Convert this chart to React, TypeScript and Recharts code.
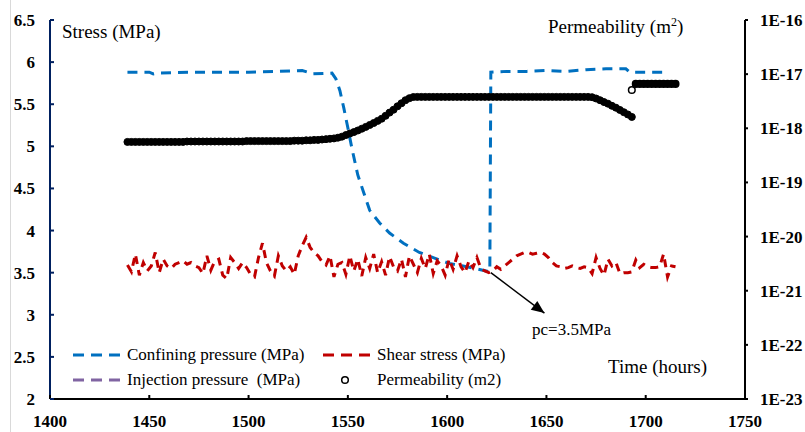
import React from 'react';
import { ComposedChart, Line, XAxis, YAxis, ReferenceLine, ReferenceDot } from 'recharts';

// sample times (hours) shared by shear stress and permeability
const hours = [
  1439, 1441, 1443, 1445, 1447, 1449, 1451, 1453, 1455, 1457,
  1459, 1461, 1463, 1465, 1467, 1469, 1471, 1473, 1475, 1477,
  1479, 1481, 1483, 1485, 1487, 1489, 1491, 1493, 1495, 1497,
  1499, 1501, 1503, 1505, 1507, 1509, 1511, 1513, 1515, 1517,
  1519, 1521, 1523, 1525, 1527, 1529, 1531, 1533, 1535, 1537,
  1539, 1541, 1543, 1545, 1547, 1549, 1551, 1553, 1555, 1557,
  1559, 1561, 1563, 1565, 1567, 1569, 1571, 1573, 1575, 1577,
  1579, 1581, 1583, 1585, 1587, 1589, 1591, 1593, 1595, 1597,
  1599, 1601, 1603, 1605, 1607, 1609, 1611, 1613, 1615, 1617,
  1619, 1621, 1623, 1625, 1627, 1629, 1631, 1633, 1635, 1637,
  1639, 1641, 1643, 1645, 1647, 1649, 1651, 1653, 1655, 1657,
  1659, 1661, 1663, 1665, 1667, 1669, 1671, 1673, 1675, 1677,
  1679, 1681, 1683, 1685, 1687, 1689, 1691, 1693, 1695, 1697,
  1699, 1701, 1703, 1705, 1707, 1709, 1711, 1713, 1715,
];

const shearStress = [
  3.59, 3.51, 3.72, 3.47, 3.62, 3.52, 3.58, 3.74, 3.50, 3.66,
  3.58, 3.55, 3.60, 3.62, 3.64, 3.60, 3.62, 3.58, 3.56, 3.49,
  3.70, 3.53, 3.64, 3.66, 3.47, 3.43, 3.68, 3.62, 3.55, 3.62,
  3.56, 3.48, 3.45, 3.68, 3.85, 3.62, 3.52, 3.46, 3.70, 3.58,
  3.52, 3.57, 3.48, 3.70, 3.82, 3.92, 3.80, 3.74, 3.70, 3.63,
  3.59, 3.70, 3.45, 3.60, 3.62, 3.48, 3.70, 3.52, 3.66, 3.46,
  3.68, 3.55, 3.72, 3.50, 3.63, 3.47, 3.69, 3.57, 3.52, 3.66,
  3.45, 3.70, 3.60, 3.50, 3.67, 3.55, 3.72, 3.49, 3.64, 3.58,
  3.47, 3.66, 3.54, 3.70, 3.57, 3.50, 3.64, 3.56, 3.68, 3.55,
  3.52, 3.50, 3.52, 3.57, 3.54, 3.58, 3.62, 3.66, 3.70, 3.72,
  3.74, 3.74, 3.72, 3.73, 3.74, 3.72, 3.68, 3.62, 3.58, 3.57,
  3.55, 3.56, 3.58, 3.56, 3.55, 3.57, 3.56, 3.49, 3.68, 3.55,
  3.47, 3.66, 3.58, 3.62, 3.49, 3.50, 3.50, 3.51, 3.65, 3.56,
  3.60, 3.57, 3.56, 3.56, 3.57, 3.72, 3.45, 3.58, 3.57,
];

// permeability before the jump (m2)
const permeabilityBefore = [
  5.6e-19, 5.6e-19, 5.6e-19, 5.6e-19, 5.6e-19, 5.6e-19, 5.6e-19, 5.6e-19, 5.6e-19, 5.6e-19,
  5.6e-19, 5.6e-19, 5.6e-19, 5.6e-19, 5.6e-19, 5.7e-19, 5.7e-19, 5.7e-19, 5.7e-19, 5.7e-19,
  5.7e-19, 5.7e-19, 5.7e-19, 5.7e-19, 5.7e-19, 5.7e-19, 5.7e-19, 5.7e-19, 5.7e-19, 5.7e-19,
  5.8e-19, 5.8e-19, 5.8e-19, 5.8e-19, 5.8e-19, 5.8e-19, 5.8e-19, 5.8e-19, 5.8e-19, 5.8e-19,
  5.8e-19, 5.8e-19, 5.9e-19, 5.9e-19, 5.9e-19, 6.0e-19, 6.0e-19, 6.1e-19, 6.1e-19, 6.2e-19,
  6.3e-19, 6.4e-19, 6.5e-19, 6.7e-19, 7.0e-19, 7.5e-19, 8.0e-19, 8.5e-19, 9.1e-19, 9.8e-19,
  1.06e-18, 1.15e-18, 1.25e-18, 1.37e-18, 1.5e-18, 1.7e-18, 1.95e-18, 2.2e-18, 2.55e-18, 2.9e-18,
  3.3e-18, 3.6e-18, 3.78e-18, 3.8e-18, 3.8e-18, 3.8e-18, 3.8e-18, 3.8e-18, 3.8e-18, 3.8e-18,
  3.8e-18, 3.8e-18, 3.8e-18, 3.8e-18, 3.8e-18, 3.8e-18, 3.8e-18, 3.8e-18, 3.8e-18, 3.8e-18,
  3.8e-18, 3.8e-18, 3.8e-18, 3.8e-18, 3.8e-18, 3.8e-18, 3.8e-18, 3.8e-18, 3.8e-18, 3.8e-18,
  3.8e-18, 3.8e-18, 3.8e-18, 3.8e-18, 3.8e-18, 3.8e-18, 3.8e-18, 3.8e-18, 3.8e-18, 3.8e-18,
  3.8e-18, 3.8e-18, 3.8e-18, 3.8e-18, 3.8e-18, 3.8e-18, 3.8e-18, 3.75e-18, 3.55e-18, 3.3e-18,
  3.05e-18, 2.85e-18, 2.6e-18, 2.4e-18, 2.18e-18, 1.98e-18, 1.8e-18, 1.62e-18, null, null,
  null, null, null, null, null, null, null, null, null,
];

// permeability after the jump, starting at 1693 h
const permeabilityAfter = [5.1e-18, 6.6e-18, 6.6e-18, 6.6e-18, 6.6e-18, 6.6e-18, 6.6e-18, 6.6e-18, 6.6e-18, 6.6e-18, 6.6e-18, 6.6e-18];
const jumpHour = 1693;

const confiningHours = [
  1439, 1450, 1452, 1454, 1470, 1500, 1527, 1530, 1532, 1542, 1544, 1546, 1548, 1550, 1552, 1555,
  1558, 1561, 1566, 1571, 1578, 1586, 1594, 1601, 1608, 1614, 1621.5, 1622, 1630, 1640, 1650, 1660,
  1670, 1680, 1690, 1692, 1700, 1711,
];
const confiningPressure = [
  5.88, 5.88, 5.86, 5.87, 5.88, 5.88, 5.9, 5.88, 5.86, 5.87, 5.8, 5.66, 5.45, 5.22, 4.98, 4.66,
  4.45, 4.24, 4.09, 3.97, 3.85, 3.74, 3.67, 3.61, 3.58, 3.55, 3.51, 5.88, 5.89, 5.89, 5.9, 5.89,
  5.91, 5.92, 5.92, 5.88, 5.88, 5.88,
];

const xTicks = [1400, 1450, 1500, 1550, 1600, 1650, 1700, 1750];
const stressTicks = [2, 2.5, 3, 3.5, 4, 4.5, 5, 5.5, 6, 6.5];
const permTicks = [1e-23, 1e-22, 1e-21, 1e-20, 1e-19, 1e-18, 1e-17, 1e-16];

const seriesNames = [
  'Confining pressure (MPa)',
  'Shear stress (MPa)',
  'Injection pressure  (MPa)',
  'Permeability (m2)',
];

const pcPoint = { x: 1622, y: 3.5 };
const pcArrowTip = { x: 1649, y: 3.02 };

const SERIF = '"Liberation Serif", "Times New Roman", serif';
const BLUE = '#0070C0';
const RED = '#C00000';
const PURPLE = '#8064A2';
const NAVY = '#002060';

const table = hours.map((h, i) => ({
  hours: h,
  shear: shearStress[i],
  permBefore: permeabilityBefore[i],
  permAfter: h >= jumpHour ? permeabilityAfter[(h - jumpHour) / 2] : null,
}));
const confiningData = confiningHours.map((h, i) => ({ hours: h, confining: confiningPressure[i] }));

const LeftTick = (props: any) => {
  const { x, y, payload } = props;
  return (
    <g>
      <line x1={x + 15} x2={x + 19} y1={y} y2={y} stroke={NAVY} strokeWidth={2} />
      <text x={x} y={y + 6} textAnchor="end" fontFamily={SERIF} fontWeight="bold" fontSize={17} fill="#000">
        {payload.value}
      </text>
    </g>
  );
};

const BottomTick = (props: any) => {
  const { x, y, payload } = props;
  return (
    <g>
      <line x1={x} x2={x} y1={y - 14} y2={y - 18} stroke="#000" strokeWidth={2} />
      <text x={x} y={y + 14} textAnchor="middle" fontFamily={SERIF} fontWeight="bold" fontSize={17} fill="#000">
        {payload.value}
      </text>
    </g>
  );
};

const RightTick = (props: any) => {
  const { x, y, payload } = props;
  return (
    <text x={x} y={y + 6} textAnchor="start" fontFamily={SERIF} fontWeight="bold" fontSize={17} fill="#000">
      {`1E${Math.round(Math.log10(payload.value))}`}
    </text>
  );
};

const solidDot = (p: any) => {
  if (p.cy == null || isNaN(p.cy)) return <g key={p.key} />;
  return <circle key={p.key} cx={p.cx} cy={p.cy} r={3.5} fill="#000" stroke="#000" strokeWidth={1} />;
};

const afterDot = (p: any) => {
  if (p.cy == null || isNaN(p.cy)) return <g key={p.key} />;
  const open = p.payload && p.payload.hours === jumpHour;
  return <circle key={p.key} cx={p.cx} cy={p.cy} r={3.3} fill={open ? '#fff' : '#000'} stroke="#000" strokeWidth={1.5} />;
};

const ArrowHead = (p: any) => {
  const { cx, cy } = p;
  return (
    <polygon
      points="0,0 -13,-5.5 -13,5.5"
      fill="#000"
      transform={`translate(${cx},${cy}) rotate(36.7)`}
    />
  );
};

const label = (left: number, top: number, size: number): React.CSSProperties => ({
  position: 'absolute',
  left,
  top,
  fontFamily: SERIF,
  fontSize: size,
  lineHeight: '1',
  color: '#000',
  whiteSpace: 'pre',
});

const DashSwatch = ({ color }: { color: string }) => (
  <svg width={48} height={6} style={{ display: 'block' }}>
    <line x1={0} x2={48} y1={3} y2={3} stroke={color} strokeWidth={3} strokeDasharray="11 7" />
  </svg>
);

export default function App() {
  return (
    <div style={{ position: 'absolute', left: 0, top: 0, width: 805, height: 432, background: '#fff' }}>
      <div style={{ position: 'absolute', left: 10, top: 0, width: 1, height: 432, background: '#d9d9d9' }} />
      <ComposedChart width={805} height={432} data={table} margin={{ top: 20, right: 0, bottom: 0, left: 0 }}>
        <XAxis
          dataKey="hours"
          type="number"
          domain={[1400, 1750]}
          ticks={xTicks}
          height={33}
          tickSize={0}
          tickMargin={14}
          tick={<BottomTick />}
          axisLine={{ stroke: '#000', strokeWidth: 2 }}
          allowDataOverflow
        />
        <YAxis
          yAxisId="left"
          type="number"
          domain={[2, 6.5]}
          ticks={stressTicks}
          width={50}
          tickSize={0}
          tickMargin={15}
          tick={<LeftTick />}
          axisLine={{ stroke: NAVY, strokeWidth: 2 }}
          allowDataOverflow
        />
        <YAxis
          yAxisId="right"
          orientation="right"
          type="number"
          scale="log"
          domain={[1e-23, 1e-16]}
          ticks={permTicks}
          width={60}
          tickSize={3}
          tickMargin={12}
          tick={<RightTick />}
          tickLine={{ stroke: '#000', strokeWidth: 2 }}
          axisLine={{ stroke: '#000', strokeWidth: 2 }}
          allowDataOverflow
        />
        <Line
          yAxisId="left"
          data={confiningData}
          dataKey="confining"
          type="linear"
          stroke={BLUE}
          strokeWidth={3}
          strokeDasharray="10 7"
          dot={false}
          isAnimationActive={false}
        />
        <Line
          yAxisId="left"
          dataKey="shear"
          type="linear"
          stroke={RED}
          strokeWidth={3}
          strokeDasharray="8 6"
          dot={false}
          isAnimationActive={false}
        />
        <Line
          yAxisId="right"
          dataKey="permBefore"
          stroke="none"
          dot={solidDot}
          activeDot={false}
          isAnimationActive={false}
        />
        <Line
          yAxisId="right"
          dataKey="permAfter"
          stroke="none"
          dot={afterDot}
          activeDot={false}
          isAnimationActive={false}
        />
        <ReferenceLine
          yAxisId="left"
          segment={[pcPoint, pcArrowTip]}
          stroke="#000"
          strokeWidth={1.5}
        />
        <ReferenceDot yAxisId="left" x={pcArrowTip.x} y={pcArrowTip.y} r={0} shape={<ArrowHead />} />
      </ComposedChart>

      <div style={label(62, 22, 19)}>Stress (MPa)</div>
      <div style={label(548, 17, 19)}>
        Permeability (m<span style={{ fontSize: 12, verticalAlign: 'top', position: 'relative', top: -1 }}>2</span>)
      </div>
      <div style={label(608, 357, 19)}>Time (hours)</div>
      <div style={label(532, 321, 17)}>pc=3.5MPa</div>

      <div style={{ position: 'absolute', left: 73, top: 352 }}><DashSwatch color={BLUE} /></div>
      <div style={label(127, 346, 17)}>{seriesNames[0]}</div>
      <div style={{ position: 'absolute', left: 323, top: 352 }}><DashSwatch color={RED} /></div>
      <div style={label(377, 346, 17)}>{seriesNames[1]}</div>
      <div style={{ position: 'absolute', left: 73, top: 377 }}><DashSwatch color={PURPLE} /></div>
      <div style={label(127, 371, 17)}>{seriesNames[2]}</div>
      <svg style={{ position: 'absolute', left: 340, top: 375 }} width={10} height={10}>
        <circle cx={5} cy={5} r={3.3} fill="#fff" stroke="#000" strokeWidth={1.5} />
      </svg>
      <div style={label(377, 371, 17)}>{seriesNames[3]}</div>
    </div>
  );
}
